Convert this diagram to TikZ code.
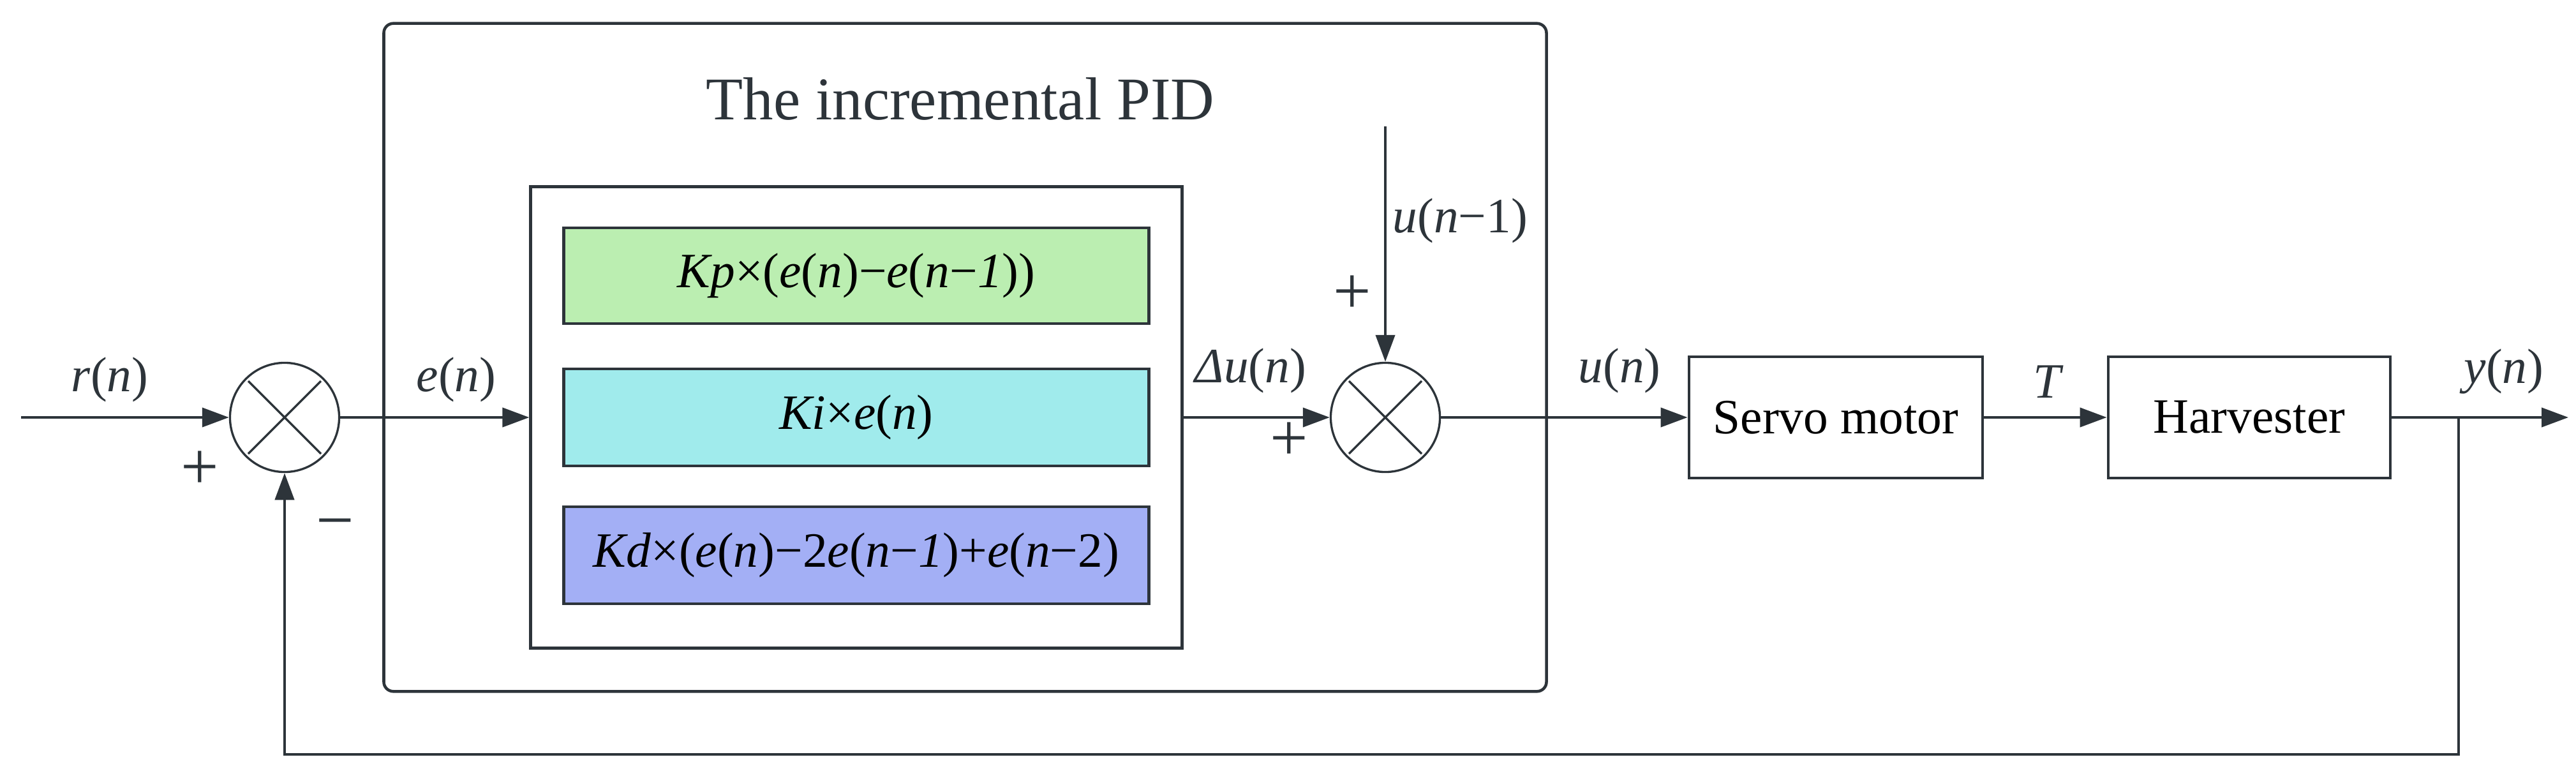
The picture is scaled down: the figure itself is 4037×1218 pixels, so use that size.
\documentclass[tikz,border=0pt]{standalone}
\usepackage{fontspec}
\setmainfont{Liberation Serif}
\usetikzlibrary{arrows.meta}
\definecolor{ln}{RGB}{45,52,58}
\definecolor{gbox}{RGB}{187,238,177}
\definecolor{cbox}{RGB}{160,235,236}
\definecolor{bbox}{RGB}{163,175,245}
\begin{document}
\begin{tikzpicture}[x=0.01cm,y=-0.01cm,
  wire/.style={draw=ln,line width=1.2pt},
  arr/.style={wire,-{Triangle[length=0.42cm,width=0.3cm]}},
  blk/.style={draw=ln,line width=1.3pt,inner sep=0pt,font=\fontsize{22}{26}\selectfont},
  sumnode/.style={circle,draw=ln,line width=0.95pt,minimum size=1.71cm,inner sep=0pt},
  lbl/.style={font=\fontsize{22}{26}\selectfont,inner sep=0pt,text=ln},
  sgn/.style={font=\fontsize{30}{34}\selectfont,inner sep=0pt,text=ln}]
\useasboundingbox (0,0) rectangle (4037,1218);
\fill[white] (0,0) rectangle (4037,1218);

% blocks
\node[blk,rounded corners=0.15cm,minimum width=18.21cm,minimum height=10.46cm] (pid) at (1512.5,560) {};
\node[lbl,font=\fontsize{27}{32}\selectfont] (title) at (1505,155) {The incremental PID};
\node[blk,minimum width=10.2cm,minimum height=7.23cm] (inner) at (1342,654) {};
\node[blk,fill=gbox,minimum width=9.16cm,minimum height=1.5cm] (kp) at (1342,432)
  {\textit{Kp}×(\textit{e}(\textit{n})−\textit{e}(\textit{n}−\textit{1}))};
\node[blk,fill=cbox,minimum width=9.16cm,minimum height=1.52cm] (ki) at (1342,654)
  {\textit{Ki}×\textit{e}(\textit{n})};
\node[blk,fill=bbox,minimum width=9.16cm,minimum height=1.52cm] (kd) at (1342,870)
  {\textit{Kd}×(\textit{e}(\textit{n})−2\textit{e}(\textit{n}−\textit{1})+\textit{e}(\textit{n}−2)};
\node[blk,minimum width=4.6cm,minimum height=1.9cm] (servo) at (2877,654) {Servo motor};
\node[blk,minimum width=4.42cm,minimum height=1.9cm] (harv) at (3525,654) {Harvester};

% summing junctions
\node[sumnode] (s1) at (446,654) {};
\node[sumnode] (s2) at (2171,654) {};
\draw[ln,line width=0.95pt] (s1.center) ++(-57,-57) -- ++(114,114);
\draw[ln,line width=0.95pt] (s1.center) ++(-57,57) -- ++(114,-114);
\draw[ln,line width=0.95pt] (s2.center) ++(-57,-57) -- ++(114,114);
\draw[ln,line width=0.95pt] (s2.center) ++(-57,57) -- ++(114,-114);

% coordinates
\coordinate (in) at (33,654);
\coordinate (ut) at (2171,198);
\coordinate (out) at (4025,654);
\coordinate (br) at (3853,654);
\coordinate (fb) at (3853,1182);

% connectors
\draw[arr] (in) -- (s1.west);
\draw[arr] (s1.east) -- (inner.west);
\draw[arr] (inner.east) -- (s2.west);
\draw[arr] (ut) -- (s2.north);
\draw[arr] (s2.east) -- (servo.west);
\draw[arr] (servo.east) -- (harv.west);
\draw[arr] (harv.east) -- (out);
\draw[arr] (br) -- (fb) -| (s1.south);

% labels
\node[lbl] (lr) at (172,595) {\textit{r}(\textit{n})};
\node[lbl] (le) at (715,595) {\textit{e}(\textit{n})};
\node[lbl] (ldu) at (1960,581) {\textit{Δu}(\textit{n})};
\node[lbl] (lu) at (2538,581) {\textit{u}(\textit{n})};
\node[lbl] (lT) at (3210,598) {\textit{T}};
\node[lbl] (ly) at (3924,582) {\textit{y}(\textit{n})};
\node[lbl,anchor=west] (lu1) at (2182,346) {\textit{u}(\textit{n}−1)};

% signs
\node[sgn] (p1) at (313,737) {+};
\node[sgn] (m1) at (525,832) {−};
\node[sgn] (p2) at (2119,462) {+};
\node[sgn] (p3) at (2020,692) {+};
\end{tikzpicture}
\end{document}
